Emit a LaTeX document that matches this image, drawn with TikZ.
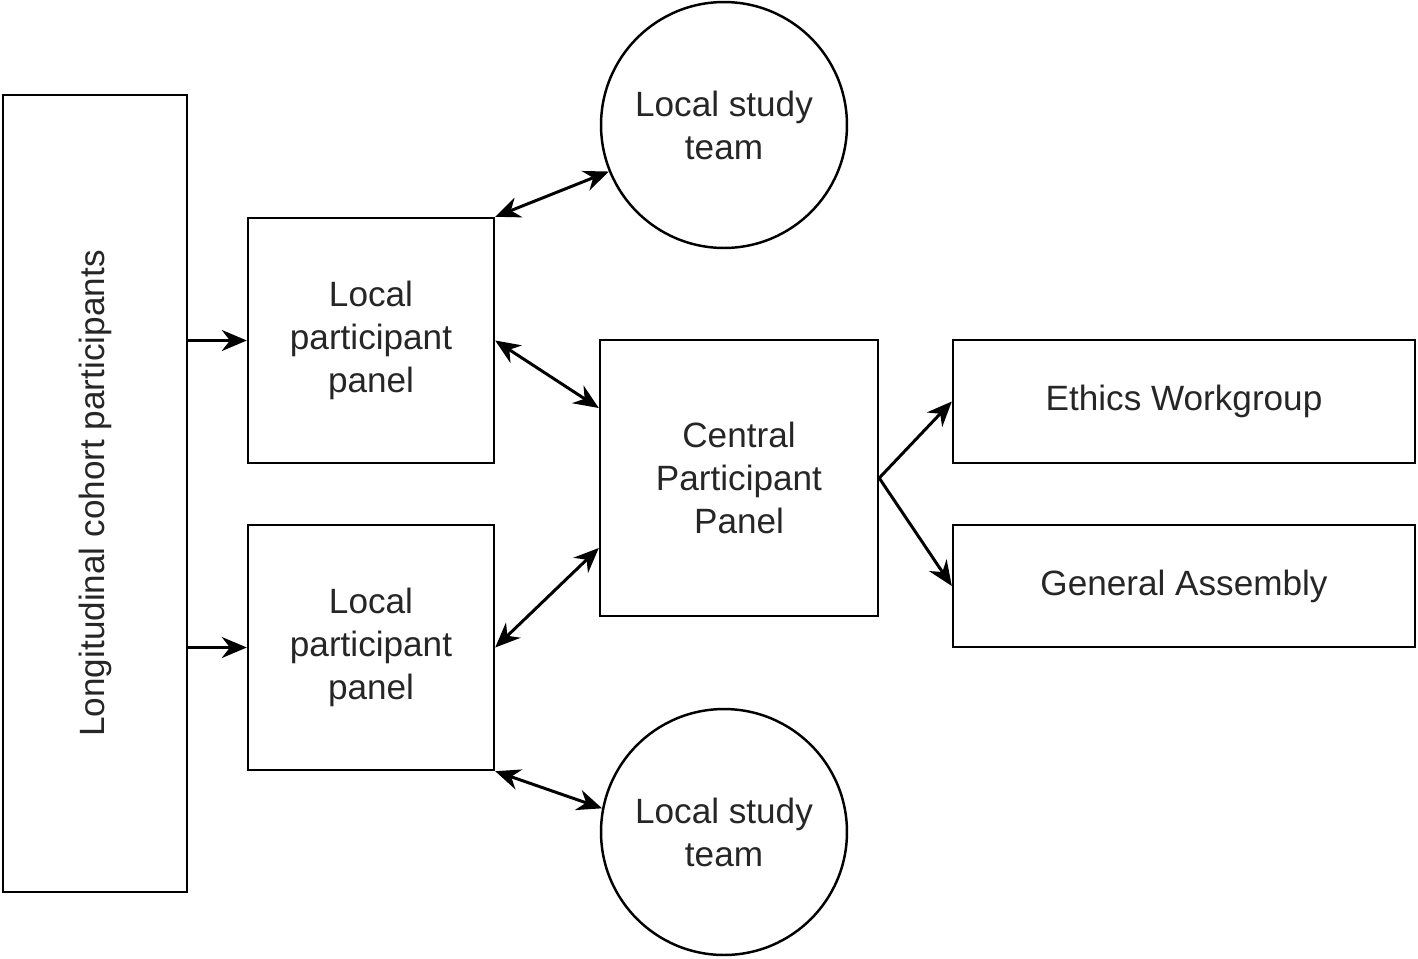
\documentclass[tikz,border=0pt]{standalone}
\usepackage{fontspec}
\setmainfont{Liberation Sans}
\usetikzlibrary{arrows.meta}
\begin{document}
\begin{tikzpicture}[x=0.02cm,y=-0.02cm,
  box/.style={draw=black,line width=1.4pt,align=center,inner sep=0pt,
    font=\fontsize{20}{24.5}\selectfont,text=black!85},
  circ/.style={draw=black,line width=1.4pt,circle,align=center,inner sep=0pt,
    minimum size=4.92cm,font=\fontsize{20}{24.5}\selectfont,text=black!85},
  conn/.style={line width=1.7pt,-{Stealth[length=0.5cm,width=0.42cm]}},
  bconn/.style={line width=1.7pt,{Stealth[length=0.5cm,width=0.42cm]}-{Stealth[length=0.5cm,width=0.42cm]}}]
\useasboundingbox (0,0) rectangle (1418,958);
\node[box,minimum width=3.68cm,minimum height=15.94cm] (lc) at (95,493.5)
  {\rotatebox{90}{Longitudinal cohort participants}};
\node[box,minimum width=4.92cm,minimum height=4.9cm] (lp1) at (371,340.5) {Local\\participant\\panel};
\node[box,minimum width=4.92cm,minimum height=4.9cm] (lp2) at (371,647.5) {Local\\participant\\panel};
\node[circ] (st1) at (724,125) {Local study\\team};
\node[circ] (st2) at (724,832) {Local study\\team};
\node[box,minimum width=5.56cm,minimum height=5.52cm] (cp) at (739,478) {Central\\Participant\\Panel};
\node[box,minimum width=9.24cm,minimum height=2.46cm] (ew) at (1184,401.5) {Ethics Workgroup};
\node[box,minimum width=9.24cm,minimum height=2.44cm] (ga) at (1184,586) {General Assembly};
\draw[conn] (lc.east |- lp1.west) -- (lp1.west);
\draw[conn] (lc.east |- lp2.west) -- (lp2.west);
\draw[bconn] (lp1.north east) -- (st1.202);
\draw[bconn] (lp2.south east) -- (st2.169);
\draw[bconn] (lp1.east) -- ([yshift=1.4cm]cp.west);
\draw[bconn] (lp2.east) -- ([yshift=-1.4cm]cp.west);
\draw[conn] (cp.east) -- (ew.west);
\draw[conn] (cp.east) -- (ga.west);
\end{tikzpicture}
\end{document}
